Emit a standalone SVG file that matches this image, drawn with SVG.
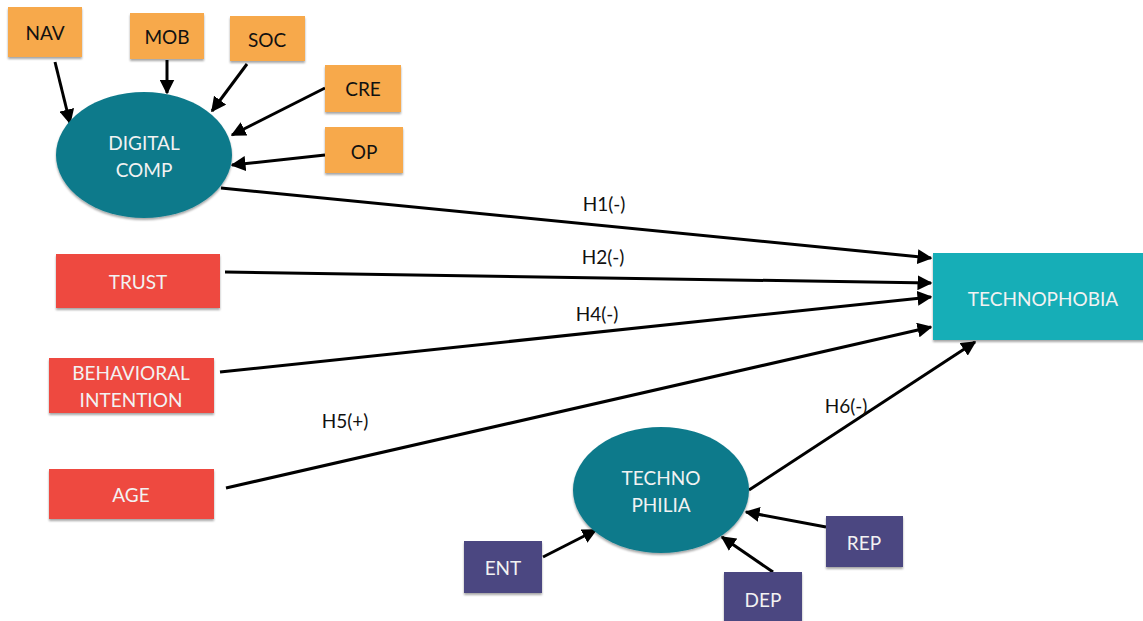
<svg xmlns="http://www.w3.org/2000/svg" width="1143" height="621" viewBox="0 0 1143 621">
<style>
.org{fill:#F7A94B}
.red{fill:#EE4A40}
.pur{fill:#4B4681}
.ell{fill:#0E7A8B}
.tp{fill:#17AEB7}
.dk{font-family:Lato,"Liberation Sans",sans-serif;font-size:19px;fill:#111;text-anchor:middle;dominant-baseline:central}
.lt{font-family:Lato,"Liberation Sans",sans-serif;font-size:19px;fill:#F2F2F2;text-anchor:middle;dominant-baseline:central}
.lb{font-family:Lato,"Liberation Sans",sans-serif;font-size:19px;fill:#111;text-anchor:middle;dominant-baseline:central}
.c{stroke:#000;stroke-width:3;fill:none;marker-end:url(#ah)}
</style>
<defs>
<marker id="ah" viewBox="0 0 10 10" refX="9" refY="5" markerWidth="5" markerHeight="5" orient="auto" markerUnits="strokeWidth">
<path d="M0,0 L10,5 L0,10 z" fill="#000"/>
</marker>
<filter id="sh" x="-10%" y="-10%" width="120%" height="130%">
<feDropShadow dx="0" dy="2" stdDeviation="1.2" flood-color="#000" flood-opacity="0.35"/>
</filter>
</defs>
<rect width="1143" height="621" fill="#fff"/>
<g id="connectors">
<line class="c" x1="55" y1="62" x2="70" y2="123"/>
<line class="c" x1="167" y1="60" x2="167" y2="93"/>
<line class="c" x1="247" y1="64" x2="212" y2="111"/>
<line class="c" x1="325" y1="88" x2="232" y2="135"/>
<line class="c" x1="325" y1="155" x2="232" y2="165"/>
<line class="c" x1="221" y1="188" x2="931" y2="258"/>
<line class="c" x1="225" y1="272" x2="931" y2="283"/>
<line class="c" x1="220" y1="372" x2="931" y2="297"/>
<line class="c" x1="226" y1="488" x2="931" y2="327"/>
<line class="c" x1="749" y1="490" x2="975" y2="342"/>
<line class="c" x1="543" y1="557" x2="596" y2="530"/>
<line class="c" x1="773" y1="572" x2="722" y2="537"/>
<line class="c" x1="826" y1="527" x2="746" y2="512"/>
<text class="lb" x="604" y="203">H1(-)</text>
<text class="lb" x="603" y="256">H2(-)</text>
<text class="lb" x="597" y="313">H4(-)</text>
<text class="lb" x="345" y="420">H5(+)</text>
<text class="lb" x="846" y="405">H6(-)</text>
</g>
<g id="nav"><rect class="org" x="8" y="7" width="74" height="50" filter="url(#sh)"/><text class="dk" x="45" y="32">NAV</text></g>
<g id="mob"><rect class="org" x="130" y="13" width="74" height="46" filter="url(#sh)"/><text class="dk" x="167" y="36">MOB</text></g>
<g id="soc"><rect class="org" x="230" y="16" width="75" height="45" filter="url(#sh)"/><text class="dk" x="267" y="39">SOC</text></g>
<g id="cre"><rect class="org" x="325" y="65" width="76" height="47" filter="url(#sh)"/><text class="dk" x="363" y="88">CRE</text></g>
<g id="op"><rect class="org" x="325" y="127" width="78" height="46" filter="url(#sh)"/><text class="dk" x="364" y="151">OP</text></g>
<g id="digital-comp"><ellipse class="ell" cx="144" cy="155" rx="88" ry="63" filter="url(#sh)"/><text class="lt" x="144" y="142">DIGITAL</text><text class="lt" x="144" y="169">COMP</text></g>
<g id="trust"><rect class="red" x="56" y="254" width="164" height="54" filter="url(#sh)"/><text class="lt" x="138" y="281">TRUST</text></g>
<g id="behavioral-intention"><rect class="red" x="49" y="358" width="165" height="55" filter="url(#sh)"/><text class="lt" x="131" y="372">BEHAVIORAL</text><text class="lt" x="131" y="399">INTENTION</text></g>
<g id="age"><rect class="red" x="49" y="469" width="165" height="50" filter="url(#sh)"/><text class="lt" x="131" y="494">AGE</text></g>
<g id="technophobia"><rect class="tp" x="933" y="253" width="215" height="87" filter="url(#sh)"/><text class="lt" x="1043" y="298">TECHNOPHOBIA</text></g>
<g id="technophilia"><ellipse class="ell" cx="661" cy="490" rx="88" ry="63" filter="url(#sh)"/><text class="lt" x="661" y="477">TECHNO</text><text class="lt" x="661" y="504">PHILIA</text></g>
<g id="ent"><rect class="pur" x="464" y="541" width="78" height="52" filter="url(#sh)"/><text class="lt" x="503" y="567">ENT</text></g>
<g id="dep"><rect class="pur" x="724" y="572" width="78" height="52" filter="url(#sh)"/><text class="lt" x="763" y="599">DEP</text></g>
<g id="rep"><rect class="pur" x="826" y="516" width="77" height="51" filter="url(#sh)"/><text class="lt" x="864" y="542">REP</text></g>
</svg>
